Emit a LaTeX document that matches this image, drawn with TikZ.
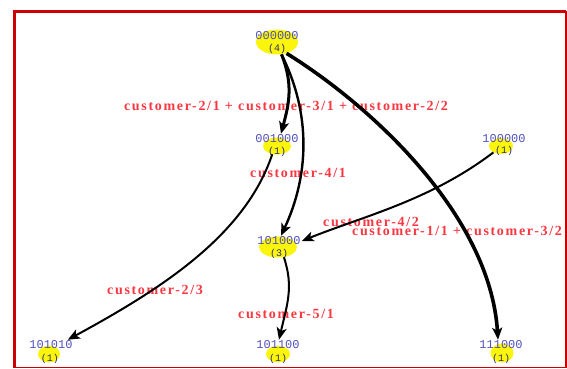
\documentclass[tikz,border=0pt]{standalone}
\usepackage{fontspec}
\setmainfont{Liberation Serif}
\newfontfamily\edgefont[LetterSpace=12]{Liberation Serif}
\newfontfamily\idfont{Liberation Mono}
\usetikzlibrary{arrows.meta,shapes.geometric}

\definecolor{framered}{RGB}{204,0,0}
\definecolor{labelred}{RGB}{250,55,65}
\definecolor{stateyellow}{RGB}{250,245,10}
\definecolor{idblue}{RGB}{80,80,190}
\definecolor{countblue}{RGB}{45,45,110}

\tikzset{
  vtx/.style={ellipse, fill=stateyellow, draw=none, inner sep=0pt},
  idtext/.style={font=\idfont\fontsize{12}{12}\selectfont, text=idblue, inner sep=1pt},
  counttext/.style={font=\idfont\fontsize{10}{10}\selectfont, text=countblue, inner sep=0.5pt},
  edgelabel/.style={font=\edgefont\bfseries\fontsize{14}{14}\selectfont, text=labelred, inner sep=0pt},
  trans/.style={draw=black, line width=#1, -{Stealth[length=12pt,width=10pt,inset=3pt]}},
  trans/.default=2pt
}

\begin{document}
\begin{tikzpicture}[x=1pt, y=-1pt]
\useasboundingbox (0,0) rectangle (567,369);

% outer frame
\draw[framered, line width=1.5pt] (566,11.5) -- (566,367.5) -- (14.5,367.5);
\draw[framered, line width=2.5pt] (14.5,367.5) -- (14.5,11.5) -- (566,11.5);

% transition labels
\node[edgelabel] (l1) at (286,106) {customer-2/1 + customer-3/1 + customer-2/2};
\node[edgelabel] (l2) at (298,173) {customer-4/1};
\node[edgelabel] (l3) at (371,222) {customer-4/2};
\node[edgelabel] (l4) at (457,231) {customer-1/1 + customer-3/2};
\node[edgelabel] (l5) at (155,290) {customer-2/3};
\node[edgelabel] (l6) at (286,314) {customer-5/1};

% states
\node[vtx, minimum width=42pt, minimum height=25pt] (s0) at (277,42) {};
\node[idtext] (s0id) at (277,36) {000000};
\node[counttext] (s0n) at (277,49) {(4)};

\node[vtx, minimum width=28pt, minimum height=17pt] (s1) at (277,146) {};
\node[idtext] (s1id) at (277,139) {001000};
\node[counttext] (s1n) at (277,152) {(1)};

\node[vtx, minimum width=24pt, minimum height=16pt] (s2) at (501,146) {};
\node[idtext] (s2id) at (504,139) {100000};
\node[counttext] (s2n) at (504,151) {(1)};

\node[vtx, minimum width=38pt, minimum height=21pt] (s3) at (278,247) {};
\node[idtext] (s3id) at (279,241) {101000};
\node[counttext] (s3n) at (279,254) {(3)};

\node[vtx, minimum width=22pt, minimum height=17pt] (s4) at (49,354) {};
\node[idtext] (s4id) at (51,345) {101010};
\node[counttext] (s4n) at (50,359) {(1)};

\node[vtx, minimum width=24pt, minimum height=17pt] (s5) at (278,354) {};
\node[idtext] (s5id) at (278,345) {101100};
\node[counttext] (s5n) at (278,359) {(1)};

\node[vtx, minimum width=23pt, minimum height=19pt] (s6) at (502,353) {};
\node[idtext] (s6id) at (501,345) {111000};
\node[counttext] (s6n) at (501,359) {(1)};

% transitions
\draw[trans=3pt] (s0.-70) .. controls +(12,30) and +(8,-30) .. ([xshift=4pt]s1id.north);
\draw[trans=2.4pt] (s0.-70) .. controls +(30,60) and +(28,-60) .. ([xshift=2pt]s3id.north);
\draw[trans=3.6pt] (s0.-50) .. controls +(84,52) and +(-8,-125) .. ([xshift=-3pt]s6id.north);
\draw[trans] (s2.-140) .. controls +(-63,48) and +(62,-25) .. (s3id.east);
\draw[trans] (s1.-120) .. controls +(-27,81) and +(94,-51) .. ([xshift=-6pt]s4id.north east);
\draw[trans] (s3.-60) .. controls +(10,30) and +(8,-35) .. ([xshift=1pt]s5id.north);
\end{tikzpicture}
\end{document}
